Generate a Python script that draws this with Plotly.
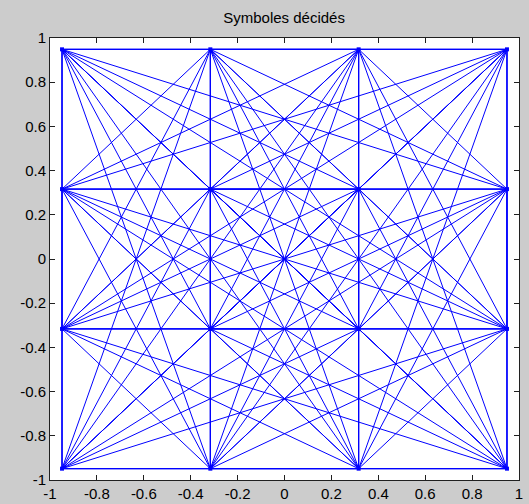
import numpy as np
import plotly.graph_objects as go

# 16-QAM normalized constellation levels (decided symbols)
levels = [-3 / np.sqrt(10), -1 / np.sqrt(10), 1 / np.sqrt(10), 3 / np.sqrt(10)]
sym_i = [a for a in levels for b in levels]
sym_q = [b for a in levels for b in levels]

tick_vals = [-1, -0.8, -0.6, -0.4, -0.2, 0, 0.2, 0.4, 0.6, 0.8, 1]
tick_text = ["-1", "-0.8", "-0.6", "-0.4", "-0.2", "0", "0.2", "0.4", "0.6", "0.8", "1"]
title_text = "Symboles décidés"

# the decided-symbol trajectory visits every transition between symbols
xs, ys = [], []
n = len(sym_i)
for i in range(n):
    for j in range(i + 1, n):
        xs += [sym_i[i], sym_i[j], None]
        ys += [sym_q[i], sym_q[j], None]

fig = go.Figure()
fig.add_trace(go.Scatter(x=xs, y=ys, mode="lines",
                         line=dict(color="#0000ff", width=1),
                         hoverinfo="skip", showlegend=False))
fig.add_trace(go.Scatter(x=sym_i, y=sym_q, mode="markers",
                         marker=dict(color="#0000ff", size=4, symbol="square"),
                         hoverinfo="skip", showlegend=False))

axis_common = dict(range=[-1, 1], tickvals=tick_vals, ticktext=tick_text,
                   ticks="inside", ticklen=5, tickcolor="#202020",
                   showline=True, linecolor="#202020", linewidth=1,
                   mirror="ticks", showgrid=False, zeroline=False, automargin=False,
                   tickfont=dict(family="Liberation Sans", size=15, color="#000000"))

fig.update_layout(
    width=529, height=504,
    margin=dict(l=50, r=10, t=38, b=24, autoexpand=False),
    paper_bgcolor="#cccccc", plot_bgcolor="#ffffff",
    title=dict(text=title_text, x=0.537, xanchor="center", y=1 - 18 / 504, yanchor="middle",
               font=dict(family="Liberation Sans", size=15, color="#000000")),
    xaxis=axis_common, yaxis=axis_common,
)

fig.write_html("out.html")
